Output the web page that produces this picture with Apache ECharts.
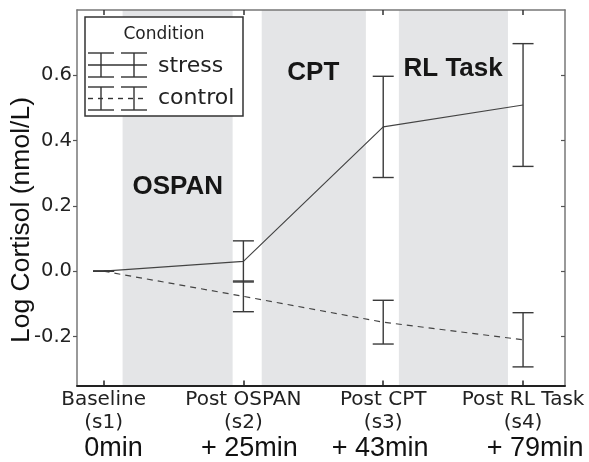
<!DOCTYPE html>
<html><head><meta charset="utf-8">
<script src="https://cdn.jsdelivr.net/npm/echarts@6/dist/echarts.min.js"></script>
<style>html,body{margin:0;padding:0;background:#fff}#c{width:589px;height:462px}</style>
</head><body><div id="c"></div>
<script>
// ---- data ----
const sessionPos = [0, 1, 2, 3];
const sessionNames = ['Baseline', 'Post OSPAN', 'Post CPT', 'Post RL Task'];
const sessionIds = ['(s1)', '(s2)', '(s3)', '(s4)'];
const sessionTimes = ['0min', '+ 25min', '+ 43min', '+ 79min'];
const stressMean = [0, 0.030, 0.442, 0.509];
const stressErr = [0, 0.063, 0.155, 0.188];
const controlMean = [0, -0.077, -0.156, -0.210];
const controlErr = [0, 0.047, 0.067, 0.083];
const bandStart = [0.136, 1.131, 2.112];
const bandEnd = [0.923, 1.876, 2.892];
const bandNames = ['OSPAN', 'CPT', 'RL Task'];
const bandLabelX = [0.53, 1.50, 2.50];
const bandLabelY = [0.258, 0.608, 0.620];
const yTicks = [-0.2, 0, 0.2, 0.4, 0.6];

const FONT_DV = 'DejaVu Sans';
const FONT_H = 'Liberation Sans';
const chart = echarts.init(document.getElementById('c'));

function errData(means, errs) {
  return sessionPos.map((x, i) => [x, means[i], means[i] - errs[i], means[i] + errs[i]]);
}
function errRender(params, api) {
  const x = api.value(0), lo = api.value(2), hi = api.value(3);
  const a = api.coord([x, hi]), b = api.coord([x, lo]);
  const hw = 10.5, st = {stroke: '#3a3a3a', lineWidth: 1.4};
  return {type: 'group', children: [
    {type: 'line', shape: {x1: a[0], y1: a[1], x2: b[0], y2: b[1]}, style: st},
    {type: 'line', shape: {x1: a[0] - hw, y1: a[1], x2: a[0] + hw, y2: a[1]}, style: st},
    {type: 'line', shape: {x1: b[0] - hw, y1: b[1], x2: b[0] + hw, y2: b[1]}, style: st}
  ]};
}
const timePad = [20, 12, -6, 24];
const rich = {a: {fontFamily: FONT_DV, fontSize: 20, color: '#222', lineHeight: 23, align: 'center'}};
timePad.forEach((p, i) => {
  rich['b' + i] = {fontFamily: FONT_H, fontSize: 27, color: '#111', lineHeight: 28, align: 'center',
    padding: p >= 0 ? [0, 0, 0, p] : [0, -p, 0, 0]};
});

const option = {
  animation: false,
  grid: {left: 77, right: 24, top: 10, bottom: 75},
  xAxis: [{
    type: 'value', position: 'bottom', min: -0.19, max: 3.3,
    axisLine: {show: true, onZero: false, lineStyle: {color: '#222', width: 2}},
    axisTick: {show: true, inside: true, length: 5, customValues: sessionPos, lineStyle: {color: '#222', width: 1.5}},
    axisLabel: {show: true, customValues: sessionPos, margin: 3, rich: rich,
      formatter: function (v) { const i = Math.round(v);
        return '{a|' + sessionNames[i] + '}\n{a|' + sessionIds[i] + '}\n{b' + i + '|' + sessionTimes[i] + '}'; }},
    splitLine: {show: false}
  }, {
    type: 'value', position: 'top', min: -0.19, max: 3.3,
    axisLine: {show: true, onZero: false, lineStyle: {color: '#777', width: 1.5}},
    axisTick: {show: true, inside: true, length: 5, customValues: sessionPos, lineStyle: {color: '#333', width: 1.5}},
    axisLabel: {show: false}, splitLine: {show: false}
  }],
  yAxis: [{
    type: 'value', position: 'left', min: -0.35, max: 0.8,
    axisLine: {show: true, onZero: false, lineStyle: {color: '#777', width: 1.5}},
    axisTick: {show: true, inside: false, length: 4, customValues: yTicks, lineStyle: {color: '#555', width: 1.2}},
    axisLabel: {show: true, customValues: yTicks, margin: 5, fontFamily: FONT_DV, fontSize: 19.5, color: '#222',
      formatter: v => v.toFixed(1)},
    splitLine: {show: false}
  }, {
    type: 'value', position: 'right', min: -0.35, max: 0.8,
    axisLine: {show: true, onZero: false, lineStyle: {color: '#777', width: 1.5}},
    axisTick: {show: true, inside: true, length: 4, customValues: yTicks, lineStyle: {color: '#555', width: 1.2}},
    axisLabel: {show: false}, splitLine: {show: false}
  }],
  series: [{
    type: 'custom', z: 0, silent: true,
    data: bandStart.map((s, i) => [s, bandEnd[i]]),
    renderItem: function (params, api) {
      const cs = params.coordSys;
      const x0 = api.coord([api.value(0), 0])[0], x1 = api.coord([api.value(1), 0])[0];
      return {type: 'rect', shape: {x: x0, y: cs.y, width: x1 - x0, height: cs.height}, style: {fill: '#e4e5e7'}};
    }
  }, {
    type: 'scatter', z: 1, symbolSize: 0, silent: true,
    itemStyle: {opacity: 1, color: '#000'},
    data: bandNames.map((n, i) => [bandLabelX[i], bandLabelY[i], n]),
    label: {show: true, position: 'inside', formatter: p => p.data[2],
      fontFamily: FONT_H, fontWeight: 'bold', fontSize: 26, color: '#161616', opacity: 1}
  }, {
    type: 'line', z: 3, symbol: 'none', silent: true,
    data: sessionPos.map((x, i) => [x, stressMean[i]]),
    lineStyle: {color: '#444', width: 1.2, type: 'solid'}
  }, {
    type: 'line', z: 3, symbol: 'none', silent: true,
    data: sessionPos.map((x, i) => [x, controlMean[i]]),
    lineStyle: {color: '#444', width: 1.2, type: [6, 5]}
  }, {
    type: 'custom', z: 4, silent: true, renderItem: errRender,
    data: errData(stressMean, stressErr)
  }, {
    type: 'custom', z: 4, silent: true, renderItem: errRender,
    data: errData(controlMean, controlErr)
  }],
  graphic: []
};
chart.setOption(option);

// legend & y-axis title
const st = {stroke: '#333', lineWidth: 1.4};
function glyphs(yTop, yBot, dashed) {
  const yMid = (yTop + yBot) / 2, out = [];
  out.push({type: 'line', shape: {x1: 88, y1: yMid, x2: 147, y2: yMid},
    style: {stroke: '#333', lineWidth: 1.4, lineDash: dashed ? [5, 5] : null}});
  [[88, 114, 101], [121, 147, 134]].forEach(g => {
    out.push({type: 'line', shape: {x1: g[0], y1: yTop, x2: g[1], y2: yTop}, style: st});
    out.push({type: 'line', shape: {x1: g[0], y1: yBot, x2: g[1], y2: yBot}, style: st});
    out.push({type: 'line', shape: {x1: g[2], y1: yTop, x2: g[2], y2: yBot}, style: st});
  });
  return out;
}
const gfx = [
  {type: 'rect', z: 10, shape: {x: 85, y: 17, width: 158, height: 99}, style: {fill: '#fff', stroke: '#333', lineWidth: 1.5}},
  {type: 'text', z: 11, style: {x: 164, y: 35, text: 'Condition', align: 'center', verticalAlign: 'middle',
    font: '17px "DejaVu Sans"', fill: '#222'}},
  {type: 'text', z: 11, style: {x: 158, y: 66, text: 'stress', align: 'left', verticalAlign: 'middle',
    font: '22px "DejaVu Sans"', fill: '#222'}},
  {type: 'text', z: 11, style: {x: 158, y: 98, text: 'control', align: 'left', verticalAlign: 'middle',
    font: '22px "DejaVu Sans"', fill: '#222'}},
  {type: 'text', z: 11, x: 22, y: 220, rotation: Math.PI / 2,
    style: {x: 0, y: 0, text: 'Log Cortisol (nmol/L)', align: 'center', verticalAlign: 'middle',
      font: '26.5px "Liberation Sans"', fill: '#111'}}
].concat(glyphs(53, 77, false).map(g => Object.assign(g, {z: 11})))
 .concat(glyphs(87, 110, true).map(g => Object.assign(g, {z: 11})));
chart.setOption({graphic: gfx});
</script></body></html>
